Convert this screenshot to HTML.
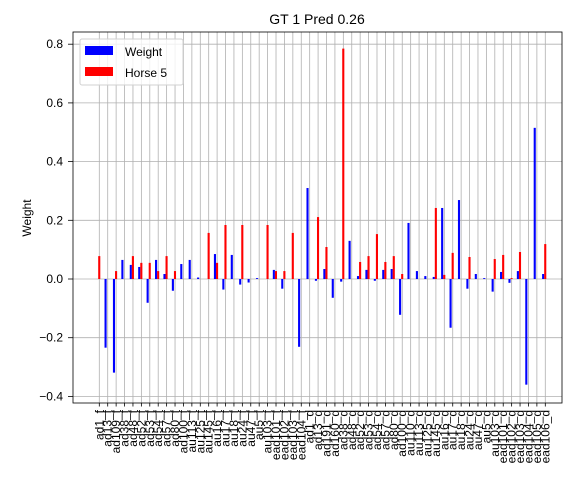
<!DOCTYPE html>
<html><head><meta charset="utf-8"><style>
body{margin:0;background:#fff;}
svg{display:block;font-family:"Liberation Sans","DejaVu Sans",sans-serif;}
</style></head><body>
<svg id="chart" width="582" height="487" viewBox="0 0 582 487" xmlns="http://www.w3.org/2000/svg">
<rect x="0" y="0" width="582" height="487" fill="#fff"/>
<text x="317" y="24" font-size="14" text-anchor="middle">GT 1 Pred 0.26</text>
<text x="31" y="218" font-size="12" text-anchor="middle" transform="rotate(-90 31 218)">Weight</text>
<g id="grid"></g><g id="bars"></g><g id="axes"></g>
<g>
<rect x="80" y="39" width="103" height="46" rx="2" fill="#fff" fill-opacity="0.8" stroke="#d0d0d0"/>
<rect x="85" y="46" width="28" height="9" fill="#0000ff"/>
<text x="125" y="56" font-size="12">Weight</text>
<rect x="85" y="67" width="28" height="9" fill="#ff0000"/>
<text x="125" y="77" font-size="12">Horse 5</text>
</g>
</svg>
<script>
const categories=["ad1_f","ad13_f","ad109_f","ad38_f","ad48_f","ad52_f","ad53_f","ad54_f","ad57_f","ad80_f","ad100_f","au113_f","au125_f","au145_f","au16_f","au17_f","au18_f","au24_f","au47_f","au5_f","au103_f","ead101_f","ead102_f","ead103_f","ead104_f","ad1_d","ad13_d","ad191_d","ad160_d","ad38_d","ad48_d","ad52_d","ad53_d","ad54_d","ad57_d","ad80_d","ad100_d","au110_d","au113_d","au125_d","au145_d","au16_d","au17_d","au18_d","au24_d","au47_d","au5_d","au103_d","ead101_d","ead102_d","ead103_d","ead104_d","ead105_d","ead106_d"];
const weightValues=[0,-0.234,-0.319,0.065,0.048,0.041,-0.081,0.065,0.017,-0.04,0.051,0.065,0.005,0,0.085,-0.036,0.082,-0.019,-0.012,0.003,0,0.031,-0.033,0,-0.231,0.31,-0.006,0.034,-0.064,-0.009,0.13,0.01,0.031,-0.006,0.031,0.034,-0.122,0.191,0.027,0.01,0.007,0.242,-0.166,0.269,-0.033,0.017,0.003,-0.043,0.024,-0.013,0.027,-0.36,0.515,0.017];
const horseValues=[0.078,0,0.027,0,0.078,0.055,0.055,0.027,0.078,0.027,0,0,0,0.157,0.055,0.184,0,0.184,0,0,0.184,0.027,0.027,0.157,0,0,0.211,0.109,0,0.785,0,0.058,0.078,0.153,0.058,0.078,0.017,0,0,0,0.242,0.014,0.089,0,0.075,0,0,0.068,0.082,0.003,0.092,0,0,0.119];
const yTicks=[-0.4,-0.2,0,0.2,0.4,0.6,0.8];
const yTickLabels=["−0.4","−0.2","0.0","0.2","0.4","0.6","0.8"];
const L=73,R=562,T=32,B=403;
const step=8.415,x0=99.3;
function xPos(i){return x0+i*step;}
function yPos(v){return 279-v*293.5;}
const NS="http://www.w3.org/2000/svg";
function mk(tag,attrs,parent){const e=document.createElementNS(NS,tag);for(const k in attrs)e.setAttribute(k,attrs[k]);parent.appendChild(e);return e;}
const grid=document.getElementById('grid'),bars=document.getElementById('bars'),axes=document.getElementById('axes');
categories.forEach((c,i)=>{const g=mk('line',{x1:xPos(i),x2:xPos(i),y1:T,y2:B,stroke:'#b0b0b0','stroke-width':0.8},grid);

});
yTicks.forEach((v,i)=>{const g=mk('line',{x1:L,x2:R,y1:yPos(v),y2:yPos(v),stroke:'#b0b0b0','stroke-width':0.8},grid);


const t=mk('line',{x1:L-5,x2:L,y1:yPos(v),y2:yPos(v),stroke:'#000','stroke-width':0.8},axes);


const tx=mk('text',{x:L-10,y:yPos(v)+4,'font-size':12,'text-anchor':'end'},axes);


tx.textContent=yTickLabels[i];});
function bar(i,v,color,off,name){if(v===0)return;const y=Math.min(yPos(v),yPos(0));const h=Math.abs(yPos(v)-yPos(0));
const r=mk('rect',{x:xPos(i)+off,y:y,width:2.1,height:Math.max(h,0.5),fill:color},bars);

}
categories.forEach((c,i)=>{bar(i,weightValues[i],'#0000ff',-3.2,'bar-weight-'+c);bar(i,horseValues[i],'#ff0000',-1.1,'bar-horse-'+c);
const t=mk('line',{x1:xPos(i),x2:xPos(i),y1:B,y2:B+3.5,stroke:'#000','stroke-width':0.8},axes);


const tx=mk('text',{x:0,y:0,'font-size':12,'text-anchor':'end',transform:'translate('+(xPos(i)+4)+','+(B+7)+') rotate(-90)'},axes);


tx.textContent=c;});
const fr=mk('rect',{x:L,y:T,width:R-L,height:B-T,fill:'none',stroke:'#000','stroke-width':0.8},axes);


</script>
</body></html>
